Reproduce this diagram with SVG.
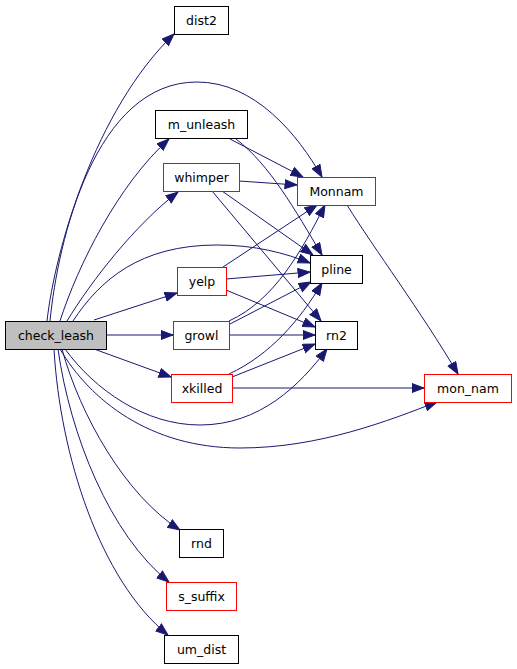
<svg xmlns="http://www.w3.org/2000/svg" width="517" height="669" viewBox="0 0 517 669">
<style>
.t{font-family:"DejaVu Sans",sans-serif;font-size:12.5px;fill:#000;text-anchor:middle}
.e path{fill:none;stroke:#191970;stroke-width:1;marker-end:url(#ah)}
</style>
<defs>
<marker id="ah" markerUnits="userSpaceOnUse" markerWidth="14" markerHeight="11" refX="12.5" refY="5" orient="auto">
<path d="M0.5,0.5 L12.5,5 L0.5,9.5 z" fill="#191970" stroke="#191970" stroke-width="1"/>
</marker>
</defs>
<rect width="517" height="669" fill="#fff"/>
<g id="edges" class="e">
<path d="M47,321 C55,250 95,110 174,34"/>
<path d="M50,321 C58,240 95,82 197,82 C255,82 298,135 322,177"/>
<path d="M60,321 C78,265 118,185 169,139"/>
<path d="M67,321 C92,280 135,225 178,192"/>
<path d="M73,321 C100,280 140,245 217,245 C255,245 285,253 310,263"/>
<path d="M94,320 L177,293"/>
<path d="M106,335 L173,335"/>
<path d="M94,349 L171,377"/>
<path d="M65,349 C95,390 145,425 200,425 C260,425 300,385 327,349"/>
<path d="M60,349 C90,400 150,448 240,448 C320,448 390,420 437,402"/>
<path d="M62,349 C80,415 125,495 180,530"/>
<path d="M58,349 C70,435 110,535 169,582"/>
<path d="M54,349 C60,455 100,580 168,635"/>
<path d="M230,139 L303,177"/>
<path d="M236,139 C270,165 295,210 322,255"/>
<path d="M239,181 L297,185"/>
<path d="M222,191 L313,255"/>
<path d="M212,191 L321,321"/>
<path d="M223,267 L317,205"/>
<path d="M226,279 L310,272"/>
<path d="M226,290 L315,327"/>
<path d="M229,321 C275,300 302,250 325,205"/>
<path d="M230,324 L311,282"/>
<path d="M229,335 L315,335"/>
<path d="M229,374 C270,355 300,320 322,283"/>
<path d="M232,377 L315,344"/>
<path d="M232,388 L424,388"/>
<path d="M347,205 C375,250 420,310 458,374"/>
</g>
<g id="check_leash"><rect x="5.5" y="321.5" width="101" height="28" fill="#bfbfbf" stroke="#000000"/><text class="t" x="56" y="340">check_leash</text></g>
<g id="dist2"><rect x="174.5" y="6.5" width="54" height="28" fill="#ffffff" stroke="#000000"/><text class="t" x="201.5" y="25">dist2</text></g>
<g id="m_unleash"><rect x="155.5" y="110.5" width="92" height="28" fill="#ffffff" stroke="#000000"/><text class="t" x="201.5" y="129">m_unleash</text></g>
<g id="whimper"><rect x="163.5" y="163.5" width="76" height="28" fill="#ffffff" stroke="red"/><text class="t" x="201.5" y="182">whimper</text></g>
<g id="Monnam"><rect x="297.5" y="177.5" width="78" height="28" fill="#ffffff" stroke="red"/><text class="t" x="336.5" y="196">Monnam</text></g>
<g id="pline"><rect x="310.5" y="255.5" width="52" height="28" fill="#ffffff" stroke="#000000"/><text class="t" x="336.5" y="274">pline</text></g>
<g id="yelp"><rect x="177.5" y="267.5" width="49" height="28" fill="#ffffff" stroke="red"/><text class="t" x="202" y="286">yelp</text></g>
<g id="growl"><rect x="173.5" y="321.5" width="56" height="28" fill="#ffffff" stroke="red"/><text class="t" x="201.5" y="340">growl</text></g>
<g id="rn2"><rect x="315.5" y="321.5" width="42" height="28" fill="#ffffff" stroke="#000000"/><text class="t" x="336.5" y="340">rn2</text></g>
<g id="xkilled"><rect x="171.5" y="374.5" width="61" height="28" fill="#ffffff" stroke="red"/><text class="t" x="202" y="393">xkilled</text></g>
<g id="mon_nam"><rect x="424.5" y="374.5" width="87" height="28" fill="#ffffff" stroke="red"/><text class="t" x="468" y="393">mon_nam</text></g>
<g id="rnd"><rect x="179.5" y="529.5" width="44" height="28" fill="#ffffff" stroke="#000000"/><text class="t" x="201.5" y="548">rnd</text></g>
<g id="s_suffix"><rect x="166.5" y="582.5" width="70" height="28" fill="#ffffff" stroke="red"/><text class="t" x="201.5" y="601">s_suffix</text></g>
<g id="um_dist"><rect x="164.5" y="635.5" width="74" height="28" fill="#ffffff" stroke="#000000"/><text class="t" x="201.5" y="654">um_dist</text></g>
</svg>
